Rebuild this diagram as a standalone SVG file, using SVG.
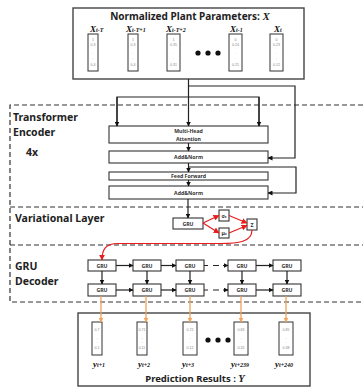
<svg xmlns="http://www.w3.org/2000/svg" width="363" height="387" viewBox="0 0 363 387">
<style>
.box{fill:#fff;stroke:#333;stroke-width:1.1}
.frame{fill:#fff;stroke:#444;stroke-width:1.4}
.vec{fill:#fff;stroke:#333;stroke-width:1}
.ln{fill:none;stroke:#222;stroke-width:1.2}
.red{fill:none;stroke:#e81c1c;stroke-width:1.2}
.org{fill:none;stroke:#f2a25a;stroke-width:1.3}
.dash{fill:none;stroke:#333;stroke-width:1.2;stroke-dasharray:5 3}
.t{font-family:"Noto Sans","Open Sans",sans-serif;font-weight:bold;fill:#222}
.sec{font-family:"Noto Sans","Open Sans",sans-serif;font-weight:bold;fill:#222;font-size:10.5px}
.sm{font-family:"Noto Sans","Open Sans",sans-serif;font-weight:bold;fill:#333;font-size:5.2px;text-anchor:middle}
.v{font-family:"Liberation Sans",sans-serif;fill:#888;font-size:3.6px;text-anchor:middle}
.lab{font-family:"Liberation Serif",serif;font-weight:bold;font-style:italic;fill:#111;font-size:9px}
.sub{font-size:6px}
</style>
<defs>
<marker id="ah" viewBox="0 0 10 10" refX="9" refY="5" markerWidth="5" markerHeight="5" markerUnits="userSpaceOnUse" orient="auto"><path d="M0,0 L10,5 L0,10 z" fill="#111"/></marker>
<marker id="ahr" viewBox="0 0 10 10" refX="9" refY="5" markerWidth="6" markerHeight="6" markerUnits="userSpaceOnUse" orient="auto"><path d="M0,0 L10,5 L0,10 z" fill="#e81c1c"/></marker>
<marker id="aho" viewBox="0 0 10 10" refX="9" refY="5" markerWidth="5" markerHeight="5" markerUnits="userSpaceOnUse" orient="auto"><path d="M0,0 L10,5 L0,10 z" fill="#f2a25a"/></marker>
</defs>

<!-- section dashed frames -->
<g id="sections">
<path class="dash" d="M363,105 H10 V302 H363"/>
<path class="dash" d="M10,207 H363"/>
<path class="dash" d="M10,245 H363"/>
<text class="sec" x="13" y="121">Transformer</text>
<text class="sec" x="13" y="136">Encoder</text>
<text class="sec" x="26" y="156">4x</text>
<text class="sec" x="15" y="222">Variational Layer</text>
<text class="sec" x="15" y="270">GRU</text>
<text class="sec" x="15" y="285">Decoder</text>
</g>

<!-- input node -->
<g id="input">
<rect class="frame" x="73" y="8" width="231" height="71"/>
<text class="t" x="190" y="20" font-size="10" text-anchor="middle">Normalized Plant Parameters: <tspan font-family="Liberation Serif,serif" font-style="italic" font-size="11">X</tspan></text>
<text class="lab" x="90" y="32">X<tspan class="sub">t-T</tspan></text>
<text class="lab" x="126" y="32">X<tspan class="sub">t-T+1</tspan></text>
<text class="lab" x="166" y="32">X<tspan class="sub">t-T+2</tspan></text>
<text class="lab" x="230" y="32">X<tspan class="sub">t-1</tspan></text>
<text class="lab" x="274" y="32">X<tspan class="sub">t</tspan></text>
<rect class="vec" x="88" y="34" width="10" height="37"/>
<rect class="vec" x="128" y="34" width="10" height="37"/>
<rect class="vec" x="167" y="34" width="13" height="37"/>
<rect class="vec" x="229" y="34" width="13" height="37"/>
<rect class="vec" x="270" y="34" width="13" height="37"/>
<g class="v">
<text x="93" y="41">1</text><text x="93" y="46">0.3</text><text x="93" y="54">.</text><text x="93" y="59">.</text><text x="93" y="66">0.4</text>
<text x="133" y="41">1</text><text x="133" y="46">0.3</text><text x="133" y="54">.</text><text x="133" y="59">.</text><text x="133" y="66">0.4</text>
<text x="173.5" y="41">1</text><text x="173.5" y="46">0.35</text><text x="173.5" y="54">.</text><text x="173.5" y="59">.</text><text x="173.5" y="66">0.31</text>
<text x="235.5" y="41">0</text><text x="235.5" y="46">0.24</text><text x="235.5" y="54">.</text><text x="235.5" y="59">.</text><text x="235.5" y="66">0.21</text>
<text x="276.5" y="41">0</text><text x="276.5" y="46">0.23</text><text x="276.5" y="54">.</text><text x="276.5" y="59">.</text><text x="276.5" y="66">0.12</text>
</g>
<circle cx="198" cy="53" r="2.6" fill="#111"/>
<circle cx="208" cy="53" r="2.6" fill="#111"/>
<circle cx="218" cy="53" r="2.6" fill="#111"/>
</g>

<!-- encoder nodes -->
<g id="mha"><rect class="box" x="109" y="126" width="159" height="17"/><text class="sm" x="188.5" y="133">Multi-Head</text><text class="sm" x="188.5" y="140.5">Attention</text></g>
<g id="addnorm1"><rect class="box" x="109" y="151" width="159" height="12"/><text class="sm" x="188.5" y="159">Add&amp;Norm</text></g>
<g id="ff"><rect class="box" x="109" y="172" width="159" height="8"/><text class="sm" x="188.5" y="178">Feed Forward</text></g>
<g id="addnorm2"><rect class="box" x="109" y="186" width="159" height="13"/><text class="sm" x="188.5" y="194.5">Add&amp;Norm</text></g>

<!-- variational nodes -->
<g id="vgru"><rect class="box" x="173" y="218" width="30" height="11"/><text class="sm" x="188" y="225.5">GRU</text></g>
<g id="sigma"><rect class="box" x="219" y="210" width="10" height="11"/><text class="sm" x="224" y="217.5">σ<tspan font-size="3.5">z</tspan></text></g>
<g id="mu"><rect class="box" x="219" y="228" width="10" height="10"/><text class="sm" x="224" y="235">μ<tspan font-size="3.5">z</tspan></text></g>
<g id="z"><rect class="box" x="247" y="219" width="10" height="11"/><text class="sm" x="252" y="226.5">Z</text></g>

<!-- decoder nodes -->
<g id="dec">
<rect class="box" x="88" y="260" width="28" height="11"/><text class="sm" x="102" y="267.5">GRU</text>
<rect class="box" x="133" y="260" width="28" height="11"/><text class="sm" x="147" y="267.5">GRU</text>
<rect class="box" x="176" y="260" width="28" height="11"/><text class="sm" x="190" y="267.5">GRU</text>
<rect class="box" x="228" y="260" width="28" height="11"/><text class="sm" x="242" y="267.5">GRU</text>
<rect class="box" x="273" y="260" width="28" height="11"/><text class="sm" x="287" y="267.5">GRU</text>
<rect class="box" x="88" y="284" width="28" height="12"/><text class="sm" x="102" y="292">GRU</text>
<rect class="box" x="133" y="284" width="28" height="12"/><text class="sm" x="147" y="292">GRU</text>
<rect class="box" x="176" y="284" width="28" height="12"/><text class="sm" x="190" y="292">GRU</text>
<rect class="box" x="228" y="284" width="28" height="12"/><text class="sm" x="242" y="292">GRU</text>
<rect class="box" x="273" y="284" width="28" height="12"/><text class="sm" x="287" y="292">GRU</text>
</g>

<!-- output node -->
<g id="output">
<rect class="frame" x="78" y="313" width="232" height="73"/>
<rect class="vec" x="92" y="322" width="10" height="33"/>
<rect class="vec" x="137" y="322" width="10" height="33"/>
<rect class="vec" x="183" y="322" width="14" height="33"/>
<rect class="vec" x="234" y="322" width="14" height="33"/>
<rect class="vec" x="279" y="322" width="14" height="33"/>
<g class="v">
<text x="97" y="331">0.7</text><text x="97" y="339">.</text><text x="97" y="343">.</text><text x="97" y="349">0.1</text>
<text x="142" y="331">0.71</text><text x="142" y="339">..</text><text x="142" y="343">..</text><text x="142" y="349">0.11</text>
<text x="190" y="331">0.72</text><text x="190" y="339">.</text><text x="190" y="343">.</text><text x="190" y="349">0.12</text>
<text x="241" y="331">0.83</text><text x="241" y="339">.</text><text x="241" y="343">.</text><text x="241" y="349">0.32</text>
<text x="286" y="331">0.85</text><text x="286" y="339">.</text><text x="286" y="343">.</text><text x="286" y="349">0.38</text>
</g>
<circle cx="208" cy="340" r="2.6" fill="#111"/>
<circle cx="218" cy="340" r="2.6" fill="#111"/>
<circle cx="228" cy="340" r="2.6" fill="#111"/>
<text class="lab" x="93" y="367">y<tspan class="sub">t+1</tspan></text>
<text class="lab" x="138" y="367">y<tspan class="sub">t+2</tspan></text>
<text class="lab" x="182" y="367">y<tspan class="sub">t+3</tspan></text>
<text class="lab" x="231" y="367">y<tspan class="sub">t+239</tspan></text>
<text class="lab" x="275" y="367">y<tspan class="sub">t+240</tspan></text>
<text class="t" x="195" y="382" font-size="9.5" text-anchor="middle">Prediction Results : <tspan font-family="Liberation Serif,serif" font-style="italic" font-size="10.5">Y</tspan></text>
</g>

<!-- connectors -->
<g id="connectors">
<path class="ln" d="M188.5,79 V126" marker-end="url(#ah)"/>
<path class="ln" d="M188.5,86 H295 V158 H268" marker-end="url(#ah)"/>
<path class="ln" d="M117,126 V97 H259 V126" />
<path class="ln" d="M117,97 V126" marker-end="url(#ah)"/>
<path class="ln" d="M259,97 V126" marker-end="url(#ah)"/>
<path class="ln" d="M188.5,143 V151" marker-end="url(#ah)"/>
<path class="ln" d="M188.5,163 V172" marker-end="url(#ah)"/>
<path class="ln" d="M188.5,167 H296 V193 H268" marker-end="url(#ah)"/>
<path class="ln" d="M188.5,180 V186" marker-end="url(#ah)"/>
<path class="ln" d="M188,199 V218" marker-end="url(#ah)"/>

<path class="red" d="M203,223 L219,215.5" marker-end="url(#ahr)"/>
<path class="red" d="M203,223 L219,233" marker-end="url(#ahr)"/>
<path class="red" d="M229,215.5 L247,223" marker-end="url(#ahr)"/>
<path class="red" d="M229,233 L247,225.5" marker-end="url(#ahr)"/>
<path class="red" d="M252,230 C252,242 238,243.5 220,243.5 L118,243.5 C106,243.5 102,249 102,260" marker-end="url(#ahr)"/>

<path class="ln" d="M116,265.5 H133" marker-end="url(#ah)"/>
<path class="ln" d="M161,265.5 H176" marker-end="url(#ah)"/>
<path class="ln" d="M204,265.5 H208 M213,265.5 H219 M223,265.5 H228" marker-end="url(#ah)"/>
<path class="ln" d="M256,265.5 H273" marker-end="url(#ah)"/>
<path class="ln" d="M116,290 H133" marker-end="url(#ah)"/>
<path class="ln" d="M161,290 H176" marker-end="url(#ah)"/>
<path class="ln" d="M204,290 H208 M213,290 H219 M223,290 H228" marker-end="url(#ah)"/>
<path class="ln" d="M256,290 H273" marker-end="url(#ah)"/>

<path class="ln" d="M102,271 V284" marker-end="url(#ah)"/>
<path class="ln" d="M147,271 V284" marker-end="url(#ah)"/>
<path class="ln" d="M190,271 V284" marker-end="url(#ah)"/>
<path class="ln" d="M242,271 V284" marker-end="url(#ah)"/>
<path class="ln" d="M287,271 V284" marker-end="url(#ah)"/>

<path class="org" d="M101,296 V322" marker-end="url(#aho)"/>
<path class="org" d="M146,296 V322" marker-end="url(#aho)"/>
<path class="org" d="M190,296 V322" marker-end="url(#aho)"/>
<path class="org" d="M241,296 V322" marker-end="url(#aho)"/>
<path class="org" d="M286,296 V322" marker-end="url(#aho)"/>
</g>
</svg>
